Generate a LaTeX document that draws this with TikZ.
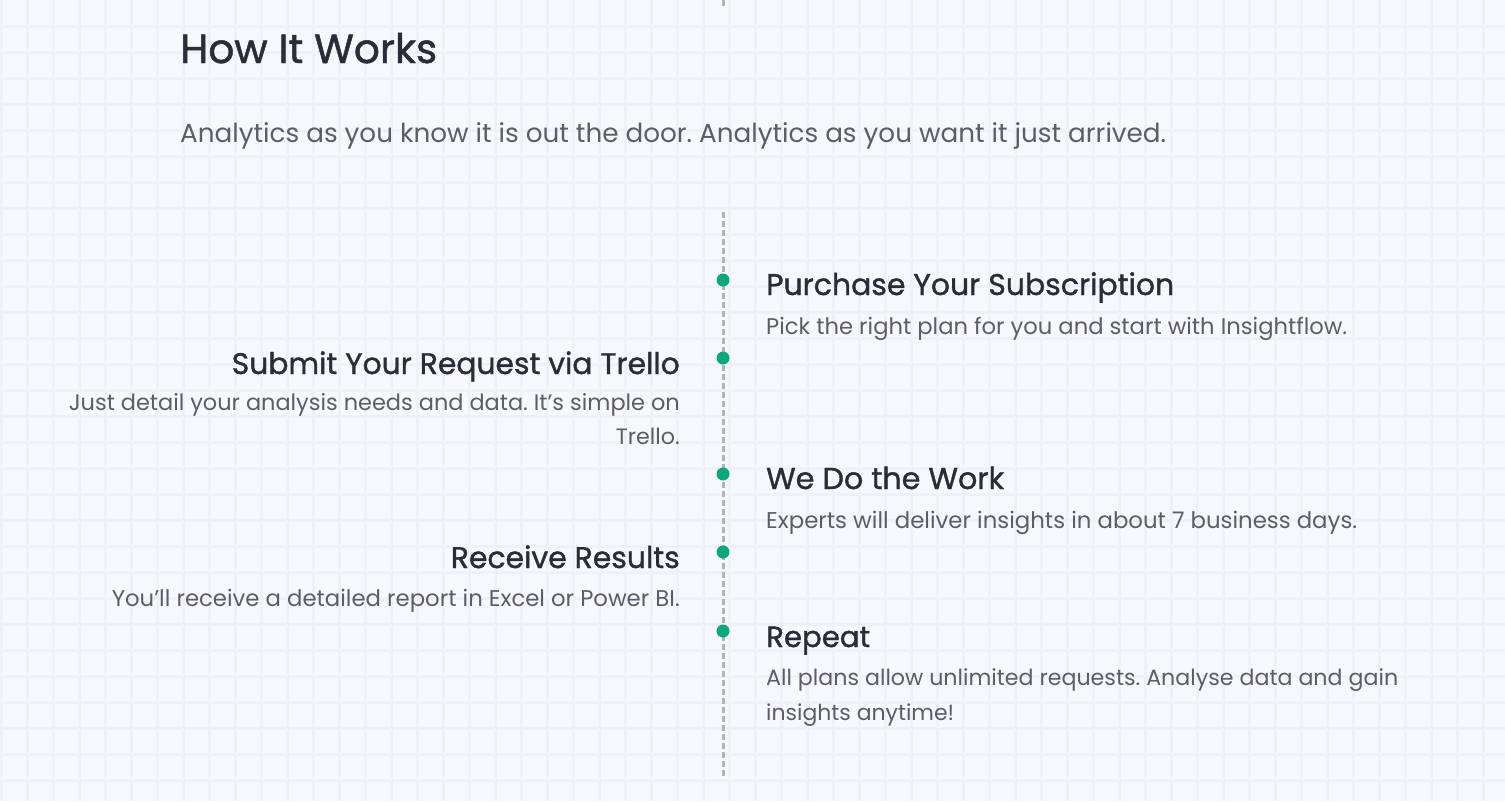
\documentclass[tikz,border=0pt]{standalone}
\usepackage{fontspec}
\setmainfont{Poppins}
\newfontfamily\headfont[FakeBold=1.2]{Poppins}
\newfontfamily\bodyfont{Poppins}
\frenchspacing
\definecolor{bg}{HTML}{F7F8FC}
\definecolor{gridc}{HTML}{F0F1F6}
\definecolor{headc}{HTML}{2B2C38}
\definecolor{bodyc}{HTML}{5C5D68}
\definecolor{dotc}{HTML}{0CA877}
\definecolor{linec}{HTML}{B3B4BA}
\newlength\tmpw
\newcommand\fitto[3]{\settowidth\tmpw{\fontsize{10}{12}\selectfont #2#3}\pgfmathsetmacro\fs{10*#1/\tmpw}\fontsize{\fs}{\fs}\selectfont #2#3}
\tikzset{
  head/.style={inner sep=0pt, text=headc},
  body/.style={inner sep=0pt, text=bodyc},
  dot/.style={circle, fill=dotc, inner sep=0pt, minimum size=13pt},
  spine/.style={draw=linec, line width=3pt, dash pattern=on 5.5pt off 3.5pt}
}
\begin{document}
\begin{tikzpicture}[x=1pt,y=-1pt]
\fill[bg] (0,0) rectangle (1505,801);
\useasboundingbox (0,0) rectangle (1505,801);
\foreach \i in {0,...,58} {\draw[gridc, line width=2.4pt] (26*\i+1.5,0) -- (26*\i+1.5,801);}
\foreach \j in {1,...,30} {\draw[gridc, line width=2.4pt] (0,26*\j+0.5) -- (1505,26*\j+0.5);}
% title
\node[head, anchor=base west] (title) at (180,63) {\fitto{257}{\headfont}{How It Works}};
\node[body, anchor=base west] (sub) at (180,142) {\fitto{986}{\bodyfont}{Analytics as you know it is out the door. Analytics as you want it just arrived.}};
% spine
\coordinate (topA) at (723,0);
\coordinate (topB) at (723,6);
\coordinate (s0) at (723,212);
\coordinate (s1) at (723,778);
\draw[linec, line width=3pt] (topA) -- (topB);
\draw[spine] (s0) -- (s1);
% dots
\node[dot] (d1) at (723,280) {};
\node[dot] (d2) at (723,358) {};
\node[dot] (d3) at (723,474) {};
\node[dot] (d4) at (723,552) {};
\node[dot] (d5) at (723,631) {};
% right items
\node[head, anchor=base west] (h1) at (766,295) {\fitto{408}{\headfont}{Purchase Your Subscription}};
\node[body, anchor=base west] (b1) at (766,334) {\fitto{581}{\bodyfont}{Pick the right plan for you and start with Insightflow.}};
\node[head, anchor=base west] (h3) at (766,489) {\fitto{238}{\headfont}{We Do the Work}};
\node[body, anchor=base west] (b3) at (766,528) {\fitto{591}{\bodyfont}{Experts will deliver insights in about 7 business days.}};
\node[head, anchor=base west] (h5) at (766,647) {\fitto{104}{\headfont}{Repeat}};
\node[body, anchor=base west] (b5) at (766,685) {\fitto{632}{\bodyfont}{All plans allow unlimited requests. Analyse data and gain}};
\node[body, anchor=base west] (b5b) at (766,720) {\fitto{188}{\bodyfont}{insights anytime!}};
% left items
\node[head, anchor=base east] (h2) at (680,374) {\fitto{448}{\headfont}{Submit Your Request via Trello}};
\node[body, anchor=base east] (b2) at (680,410) {\fitto{611}{\bodyfont}{Just detail your analysis needs and data. It’s simple on}};
\node[body, anchor=base east] (b2b) at (680,444) {\fitto{64}{\bodyfont}{Trello.}};
\node[head, anchor=base east] (h4) at (680,568) {\fitto{229}{\headfont}{Receive Results}};
\node[body, anchor=base east] (b4) at (680,606) {\fitto{568}{\bodyfont}{You’ll receive a detailed report in Excel or Power BI.}};
\end{tikzpicture}
\end{document}
